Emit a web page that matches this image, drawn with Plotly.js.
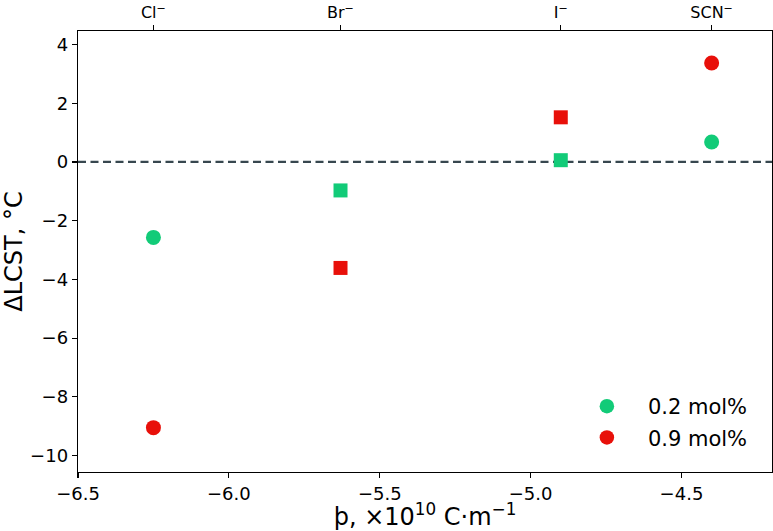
<!DOCTYPE html>
<html>
<head>
<meta charset="utf-8">
<script src="https://cdn.plot.ly/plotly-3.0.1.min.js"></script>
<style>html,body{margin:0;padding:0;background:#fff;}#chart{width:773px;height:531px;}</style>
</head>
<body>
<div id="chart"></div>
<script>
// Data
var anions = ['Cl<sup>−</sup>', 'Br<sup>−</sup>', 'I<sup>−</sup>', 'SCN<sup>−</sup>'];
var beta = [-6.25, -5.63, -4.90, -4.40];
var dLcstLow = [-2.57, -0.97, 0.06, 0.68];   // 0.2 mol%
var dLcstHigh = [-9.05, -3.61, 1.52, 3.37];  // 0.9 mol%
var seriesNames = ['0.2 mol%', '0.9 mol%'];

var symbols = ['circle', 'square', 'square', 'circle'];
var sizes = [15, 14, 14, 15];
var font = 'DejaVu Sans, sans-serif';

var traces = [
  {x: beta, y: dLcstLow, name: seriesNames[0], mode: 'markers', type: 'scatter', legendgroup: 'a',
   marker: {color: '#12cb78', symbol: symbols, size: sizes, opacity: 1, line: {width: 0}}},
  {x: beta, y: dLcstHigh, name: seriesNames[1], mode: 'markers', type: 'scatter', legendgroup: 'b',
   marker: {color: '#e8100a', symbol: symbols, size: sizes, opacity: 1, line: {width: 0}}},
  {x: beta, y: dLcstLow, xaxis: 'x2', mode: 'markers', showlegend: false, hoverinfo: 'skip',
   marker: {opacity: 0}}
];

var xr = [-6.5, -4.2];
var tickFont = {family: font, size: 18, color: '#000'};
var layout = {
  width: 773, height: 531,
  margin: {l: 78, r: 1, t: 31, b: 59},
  paper_bgcolor: '#fff', plot_bgcolor: '#fff',
  font: {family: font, color: '#000', size: 18},
  showlegend: true,
  legend: {x: 0.703, y: 0.195, xanchor: 'left', yanchor: 'top', bgcolor: 'rgba(0,0,0,0)',
           font: {family: font, size: 21}, itemwidth: 72,
           traceorder: 'grouped', tracegroupgap: 1},
  xaxis: {range: xr, tickvals: [-6.5, -6.0, -5.5, -5.0, -4.5], ticktext: ['−6.5', '−6.0', '−5.5', '−5.0', '−4.5'],
          showgrid: false, zeroline: false, showline: true, linecolor: '#000', linewidth: 1.3,
          ticks: 'outside', ticklen: 5, tickwidth: 1.2, tickcolor: '#000',
          tickfont: tickFont, mirror: false,
          title: {text: 'þ, ×10<sup>10</sup> C·m<sup>−1</sup>', font: {family: font, size: 24}, standoff: 9}},
  xaxis2: {range: xr, overlaying: 'x', side: 'top', tickvals: beta, ticktext: anions,
           showgrid: false, zeroline: false, showline: true, linecolor: '#000', linewidth: 1.3,
           ticks: 'outside', ticklen: 5, tickwidth: 1.2, tickcolor: '#000', ticklabelstandoff: 0,
           tickfont: {family: font, size: 16, color: '#000'}},
  yaxis: {range: [-10.56, 4.46], tickvals: [-10, -8, -6, -4, -2, 0, 2, 4],
          ticktext: ['−10', '−8', '−6', '−4', '−2', '0', '2', '4'],
          showgrid: false, zeroline: false, showline: true, linecolor: '#000', linewidth: 1.3,
          mirror: true, ticks: 'outside', ticklen: 5, tickwidth: 1.2, tickcolor: '#000',
          tickfont: tickFont,
          title: {text: 'ΔLCST, °C', font: {family: font, size: 24}, standoff: 6}},
  shapes: [{type: 'line', xref: 'paper', x0: 0, x1: 1, yref: 'y', y0: 0, y1: 0,
            line: {color: '#37474f', width: 2.2, dash: '8px,4.5px'}, layer: 'below'}]
};

Plotly.newPlot('chart', traces, layout, {displayModeBar: false, staticPlot: true});
</script>
</body>
</html>
